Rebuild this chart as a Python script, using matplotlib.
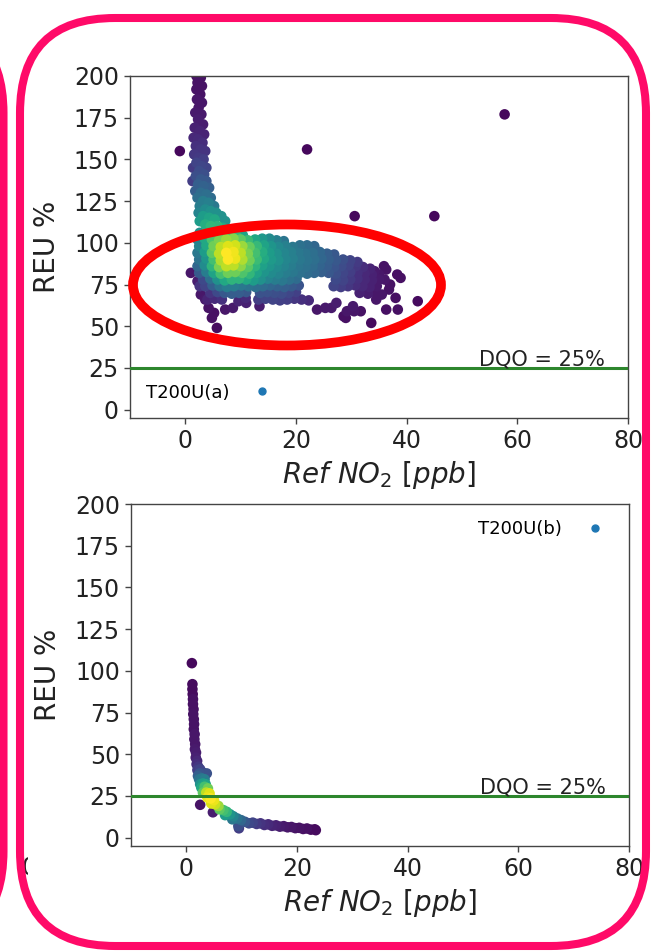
import numpy as np
import matplotlib
matplotlib.use("Agg")
import matplotlib.pyplot as plt
from matplotlib.patches import FancyBboxPatch, Ellipse, Rectangle
from matplotlib.lines import Line2D

# ---------------- data ----------------
DQO = 25
xticks = [0, 20, 40, 60, 80]
yticks = [0, 25, 50, 75, 100, 125, 150, 175, 200]
label_a = "T200U(a)"
label_b = "T200U(b)"

# panel (a): vertical stem
stem_a_ref = [2.0, 2.8, 2.2, 3.0, 2.0, 2.7, 2.1, 3.0, 2.4, 1.8,
              2.9, 2.3, 3.2, 1.7, 2.6, 3.4, 1.5, 2.3, 3.1, 1.9,
              2.8, 3.6, 1.6, 2.4, 3.3, 2.0, 2.9, 3.8, 1.4, 2.5,
              3.4, 1.9, 2.8, 3.8, 1.3, 2.3, 3.3, 4.3, 1.8, 2.8,
              3.8, 4.6, 2.2, 3.2, 4.2, 5.2, 2.6, 3.6, 4.6, 5.6,
              2.4, 3.2, 4.3, 5.3, 6.5, 7.2, 2.6, 3.6, 4.6, 5.8,
              6.8]
stem_a_reu = [200, 199, 196, 194, 192, 189, 186, 184, 181, 178,
              177, 174, 171, 169, 167, 165, 163, 162, 160, 158,
              156, 155, 153, 151, 150, 148, 146, 145, 145, 143,
              141, 140, 138, 137, 137, 135, 134, 133, 131, 130,
              129, 127, 127, 125, 124, 122, 122, 120, 119, 118,
              118, 116, 115, 114, 116, 113, 113, 111, 110, 110,
              109]
stem_a_dens = [.05, .05, .05, .05, .05, .05, .06, .06, .06, .07,
               .07, .08, .08, .09, .10, .10, .11, .12, .13, .14,
               .15, .15, .16, .17, .18, .20, .21, .20, .17, .23,
               .24, .24, .27, .27, .18, .30, .31, .30, .30, .35,
               .36, .35, .36, .42, .43, .40, .42, .48, .50, .50,
               .45, .55, .58, .60, .50, .50, .55, .62, .66, .65,
               .60]

# panel (a): dense band (one line per band row)
band_a_ref = [
    2.6, 3.9, 5.2, 6.5, 7.8, 9.1, 10.4,
    2.2, 3.5, 4.8, 6.1, 7.4, 8.7, 10.0, 11.3, 12.6, 13.9, 15.2, 16.5, 17.8,
    2.5, 3.8, 5.1, 6.4, 7.7, 9.0, 10.3, 11.6, 12.9, 14.2, 15.5, 16.8, 18.1, 19.4, 20.7, 22.0, 23.3,
    2.2, 3.5, 4.8, 6.1, 7.4, 8.7, 10.0, 11.3, 12.6, 13.9, 15.2, 16.5, 17.8, 19.1, 20.4, 21.7, 23.0, 24.3, 25.6, 26.9,
    2.5, 3.8, 5.1, 6.4, 7.7, 9.0, 10.3, 11.6, 12.9, 14.2, 15.5, 16.8, 18.1, 19.4, 20.7, 22.0, 23.3, 24.6, 25.9, 27.2, 28.5, 29.8, 31.1,
    2.2, 3.5, 4.8, 6.1, 7.4, 8.7, 10.0, 11.3, 12.6, 13.9, 15.2, 16.5, 17.8, 19.1, 20.4, 21.7, 23.0, 24.3, 25.6, 26.9, 28.2, 29.5, 30.8, 32.1, 33.4,
    2.5, 3.8, 5.1, 6.4, 7.7, 9.0, 10.3, 11.6, 12.9, 14.2, 15.5, 16.8, 18.1, 19.4, 20.7, 22.0, 23.3, 24.6, 25.9, 27.2, 28.5, 29.8, 31.1, 32.4, 33.7,
    3.2, 4.5, 5.8, 7.1, 8.4, 9.7, 11.0, 12.3, 13.6, 14.9, 16.2, 17.5, 18.8, 20.1, 27.2, 28.5, 29.8, 31.1, 32.4, 33.7, 35.0,
    3.6, 4.9, 6.2, 7.5, 8.8, 10.1, 11.4, 12.7, 14.0, 15.3, 16.6, 17.9, 19.2, 20.5, 26.8, 28.1, 29.4, 30.7, 32.0, 33.3, 34.6,
    4.5, 5.8, 7.1, 8.4, 9.7, 11.0, 13.5, 14.8, 16.1, 17.4, 18.7, 20.0, 31.5, 33.0, 34.5,
    4.0, 5.3, 6.6, 13.2, 14.5, 15.8, 17.1, 18.4, 19.7, 21.0, 22.3,
]
band_a_reu = [
    106, 106.5, 106, 105.5, 106, 105, 104.5,
    102, 102.5, 102, 101.5, 102, 102.5, 102, 101.5, 102, 102.5, 102.5, 101.5, 101,
    98, 98.5, 98, 97.5, 98, 98.5, 98, 97.5, 98, 98.5, 98, 97.5, 98, 97.5, 98.5, 98.5, 98,
    94, 94.5, 94, 93.5, 94, 94.5, 94, 93.5, 94, 94.5, 94, 93.5, 94, 94.5, 94, 93.5, 94, 94.5, 93.5, 93,
    90, 90.5, 90, 89.5, 90, 90.5, 90, 89.5, 90, 90.5, 90, 89.5, 90, 90.5, 90, 89.5, 90, 90.5, 90, 89.5, 90, 89.5, 88.5,
    86, 86.5, 86, 85.5, 86, 86.5, 86, 85.5, 86, 86.5, 86, 85.5, 86, 86.5, 86, 85.5, 86, 86.5, 86, 85.5, 86, 86.5, 86, 85.5, 84.5,
    82, 82.5, 82, 81.5, 82, 82.5, 82, 81.5, 82, 82.5, 82, 81.5, 82, 82.5, 82, 81.5, 82, 82.5, 82, 81.5, 82, 82.5, 82, 81.5, 81,
    78, 78.5, 78, 77.5, 78, 78.5, 78, 77.5, 78, 78.5, 78, 77.5, 78, 78.5, 78, 77.5, 78, 78.5, 78, 77.5, 78,
    74, 74.5, 74, 73.5, 74, 74.5, 74, 73.5, 74, 74.5, 74, 73.5, 74, 74.5, 74, 73.5, 74, 74.5, 74, 73.5, 74,
    70, 70.5, 70, 69.5, 70, 70.5, 70, 70.5, 70, 69.5, 70, 70.5, 70, 69.5, 70,
    66, 66.5, 66, 66, 66.5, 66, 65.5, 66, 66.5, 66, 65.5,
]
band_a_dens = [
    .50, .62, .70, .74, .72, .66, .58,
    .45, .60, .72, .80, .85, .82, .75, .68, .60, .53, .48, .43, .39,
    .45, .60, .78, .90, .95, .93, .85, .76, .67, .58, .52, .47, .43, .40, .37, .35, .33,
    .40, .55, .75, .90, 1.0, .98, .90, .80, .70, .62, .55, .50, .46, .43, .40, .38, .36, .33, .30, .27,
    .38, .52, .70, .88, 1.0, .97, .88, .78, .68, .60, .54, .50, .46, .43, .40, .38, .36, .33, .30, .27, .24, .20, .17,
    .33, .48, .65, .80, .90, .90, .83, .74, .65, .57, .52, .48, .45, .42, .39, .37, .35, .32, .29, .26, .23, .20, .16, .13, .10,
    .28, .42, .58, .70, .78, .78, .72, .66, .58, .52, .48, .45, .42, .40, .37, .35, .33, .30, .27, .24, .21, .18, .14, .11, .09,
    .22, .36, .50, .60, .65, .65, .60, .55, .50, .45, .42, .40, .37, .35, .22, .20, .17, .14, .11, .09, .07,
    .20, .30, .38, .42, .42, .40, .38, .36, .35, .33, .31, .30, .28, .26, .20, .18, .16, .13, .11, .09, .07,
    .15, .22, .27, .29, .29, .27, .25, .25, .24, .23, .21, .19, .09, .08, .06,
    .10, .12, .14, .18, .20, .20, .19, .18, .16, .14, .12,
]

# panel (a): sparse / outlying points
sparse_a_ref = [-1.0, 22.0, 30.6, 45.0, 57.7,
                1.0, 2.2, 2.8, 3.6, 4.2, 4.8, 5.7, 5.2, 7.2, 8.6, 9.6, 10.9, 13.4, 11.0, 2.6,
                23.8, 25.3, 26.4, 27.3, 28.6, 29.2, 30.3, 30.5, 31.7, 33.6, 29.0,
                32.4, 33.8, 35.0, 35.9, 36.3, 38.3, 38.9, 36.8, 37.0, 38.0, 36.3, 38.4, 42.0, 35.5, 34.5, 36.0, 34.2]
sparse_a_reu = [155, 156, 116, 116, 177,
                82, 77, 69, 66, 61, 55, 49, 58, 60, 61, 65, 67, 62, 64, 74,
                60, 61, 61, 64, 56, 59, 62, 59, 59, 52, 55,
                73, 78, 81, 86, 84, 81, 79, 72, 75, 67, 60, 60, 65, 69, 66, 78, 83]
sparse_a_dens = [.02, .02, .02, .02, .02,
                 .06, .08, .06, .07, .05, .04, .03, .04, .06, .07, .10, .12, .08, .09, .15,
                 .06, .07, .07, .08, .04, .06, .07, .06, .05, .03, .04,
                 .08, .08, .06, .05, .05, .04, .04, .05, .05, .04, .04, .04, .03, .06, .06, .06, .07]

# panel (b)
ref_b = [1.0, 1.1, 1.1, 1.15, 1.2, 1.2, 1.3, 1.25, 1.35, 1.4,
         1.35, 1.5, 1.45, 1.6, 1.55, 1.75, 1.7, 1.95, 1.85, 2.15,
         2.0, 2.5, 2.4, 2.1, 3.0, 3.7, 2.3, 2.8, 3.3, 2.5,
         3.0, 3.5, 2.7, 3.3, 3.9, 3.0, 3.6, 4.2, 3.8, 4.4,
         5.0, 4.5, 5.2, 5.8, 6.0, 6.7, 7.3, 7.0, 7.9, 8.5,
         8.3, 9.2, 9.9, 9.5, 9.4, 10.6, 11.3, 12.0, 12.7, 13.4,
         14.1, 14.8, 15.5, 16.2, 16.9, 17.6, 18.3, 19.0, 19.7, 20.4,
         21.1, 21.8, 22.5, 23.2, 23.4, 2.5, 4.8]
reu_b = [104.6, 92, 89, 86, 83, 80, 77, 74, 71, 68,
         65, 62, 59, 56, 53, 51, 48, 46, 44, 42.5,
         40.5, 41, 38.5, 37, 39, 38.5, 35, 35.5, 35, 32,
         32.5, 32, 30, 30.5, 29.5, 27, 27, 26.5, 24, 23.5,
         22.5, 20.5, 20, 19, 17, 16.5, 15.5, 13.5, 14, 12.8,
         11, 11.5, 10.5, 5.6, 7, 9.5, 8.6, 9.0, 8.2, 8.6,
         7.6, 8.0, 7.1, 7.4, 6.6, 6.9, 6.2, 6.4, 5.7, 5.9,
         5.2, 5.5, 4.8, 5.0, 4.5, 19.7, 15.2]
dens_b = [.02, .03, .03, .03, .04, .04, .04, .05, .05, .05,
          .05, .06, .06, .06, .07, .08, .09, .11, .13, .16,
          .18, .20, .26, .30, .22, .25, .38, .40, .42, .50,
          .55, .58, .60, .70, .78, .75, .90, .95, .97, 1.0,
          .97, .95, .92, .85, .75, .70, .66, .55, .52, .45,
          .40, .38, .33, .18, .24, .27, .22, .20, .17, .15,
          .13, .12, .10, .09, .08, .07, .06, .06, .05, .05,
          .04, .04, .03, .03, .03, .05, .08]

ref_a = stem_a_ref + band_a_ref + sparse_a_ref
reu_a = stem_a_reu + band_a_reu + sparse_a_reu
dens_a = stem_a_dens + band_a_dens + sparse_a_dens

# ---------------- figure ----------------
W, H = 652, 952
fig = plt.figure(figsize=(W / 100, H / 100), dpi=100)
fig.patch.set_facecolor("white")

ax1 = fig.add_axes([130 / W, 1 - 418 / H, 498 / W, 342 / H])
ax2 = fig.add_axes([131 / W, 1 - 846 / H, 498 / W, 342 / H])

PINK = "#ff0a68"
GREEN = "#2d862d"
TXT = "#222222"


def panel(ax, x, y, d, label, loc):
    x = np.asarray(x, float)
    y = np.asarray(y, float)
    d = np.asarray(d, float)
    order = np.argsort(d, kind="stable")
    ax.scatter(x[order], y[order], c=d[order], cmap="viridis", vmin=0, vmax=1,
               s=58, linewidths=0, zorder=2)
    ax.axhline(DQO, color=GREEN, lw=2.2, zorder=3)
    ax.text(53, DQO + 1.4, "DQO = 25%", fontsize=15, ha="left", va="baseline", color=TXT)
    ax.set_xlim(-10, 80)
    ax.set_ylim(-5, 200)
    ax.set_xticks(xticks)
    ax.set_yticks(yticks)
    ax.tick_params(labelsize=17, length=4.5, width=1, color="#444444", labelcolor=TXT)
    for s in ax.spines.values():
        s.set_color("#444444")
        s.set_linewidth(1.0)
    ax.set_xlabel(r"$Ref\ NO_2\ [ppb]$", fontsize=20, color=TXT)
    ax.set_ylabel("REU %", fontsize=20, labelpad=9, color=TXT)
    h = Line2D([], [], ls="", marker="o", ms=5, color="#1f77b4")
    ax.legend([h], [label], loc=loc, frameon=False, fontsize=13, markerfirst=False)


panel(ax1, ref_a, reu_a, dens_a, label_a, "lower left")
panel(ax2, ref_b, reu_b, dens_b, label_b, "upper right")

# ---------------- overlay decorations (pixel coordinates) ----------------
ov = fig.add_axes([0, 0, 1, 1], zorder=10)
ov.set_xlim(0, W)
ov.set_ylim(H, 0)
ov.axis("off")
ov.patch.set_alpha(0)

# cut-off tick label of the neighbouring chart (only its left edge shows)
ov.text(21.5, 868, "0", fontsize=17, ha="left", va="center", color=TXT, zorder=1)
ov.add_patch(Rectangle((28, 850), 14, 36, fc="white", ec="none", zorder=2))

ov.add_patch(FancyBboxPatch((20, 18), 626, 928, boxstyle="round,pad=0,rounding_size=95",
                            fill=False, ec=PINK, lw=5.8, zorder=3))
ov.add_patch(FancyBboxPatch((-700, 18), 703.5, 928, boxstyle="round,pad=0,rounding_size=95",
                            fill=False, ec=PINK, lw=5.8, zorder=3))
ov.add_patch(Ellipse((287, 285), 308, 121, fill=False, ec="#ff0000", lw=7, zorder=4))

fig.savefig("out.png", dpi=100, facecolor="white")
